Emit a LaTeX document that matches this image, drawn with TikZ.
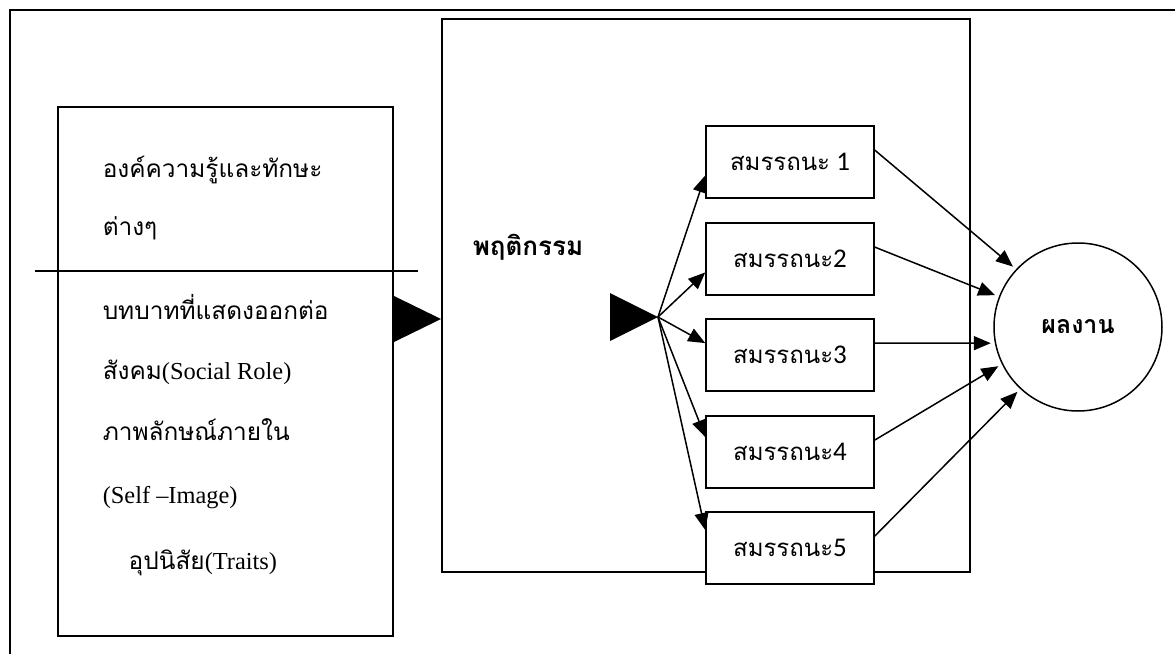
\documentclass[tikz,border=0pt]{standalone}
\usepackage{fontspec}
\usepackage{tikz}
\usetikzlibrary{arrows.meta}
\setmainfont{Liberation Serif}
\newfontfamily\thaifont[Script=Thai]{Loma}
\newfontfamily\numfont{Carlito}

\begin{document}
\begin{tikzpicture}[x=0.5pt,y=-0.5pt,line width=0.75pt,
	skillbox/.style={draw,fill=white,minimum width=84pt,minimum height=36pt,inner sep=0pt,font=\fontsize{12}{15}\selectfont},
	lefttext/.style={anchor=base west,inner sep=0pt,font=\fontsize{12.2}{15}\selectfont},
	tip/.style={-{Triangle[length=8.5pt,width=7pt]}}]
	\useasboundingbox (0,0) rectangle (1175,654);
	\draw[line width=0.85pt] (1175,10) -- (10,10) -- (10,654);
	\node[draw,minimum width=264pt,minimum height=276.5pt,inner sep=0pt] (behav) at (706,295.5) {};
	\node[draw,minimum width=167.5pt,minimum height=264.5pt,inner sep=0pt] (traits) at (225.5,371.5) {};
	\draw (35,271) -- (418,271);
	\node[lefttext] (k1) at (102,177) {\thaifont องค์ความรู้และทักษะ};
	\node[lefttext] (k2) at (102,235) {\thaifont ต่างๆ};
	\node[lefttext] (r1) at (102,319) {\thaifont บทบาทที่แสดงออกต่อ};
	\node[lefttext] (r2) at (102,379) {{\thaifont สังคม}(Social Role)};
	\node[lefttext] (i1) at (102,440) {\thaifont ภาพลักษณ์ภายใน};
	\node[lefttext] (i2) at (102,503) {(Self –Image)};
	\node[lefttext] (t1) at (128,569) {{\thaifont อุปนิสัย}(Traits)};
	\node[lefttext,font=\thaifont\bfseries\fontsize{13}{15}\selectfont] (bh) at (472,255) {พฤติกรรม};
	\coordinate (in) at (441,319);
	\coordinate (fan) at (658,317);
	\fill (in) -- (394,296) -- (394,342) -- cycle;
	\fill (fan) -- (610,293) -- (610,341) -- cycle;
	\node[skillbox] (s1) at (790,162) {{\thaifont สมรรถนะ}{\numfont\fontsize{13.5}{15}\selectfont\ 1}};
	\node[skillbox] (s2) at (790,259) {{\thaifont สมรรถนะ}{\numfont\fontsize{13.5}{15}\selectfont 2}};
	\node[skillbox] (s3) at (790,355) {{\thaifont สมรรถนะ}{\numfont\fontsize{13.5}{15}\selectfont 3}};
	\node[skillbox] (s4) at (790,452) {{\thaifont สมรรถนะ}{\numfont\fontsize{13.5}{15}\selectfont 4}};
	\node[skillbox] (s5) at (790,548) {{\thaifont สมรรถนะ}{\numfont\fontsize{13.5}{15}\selectfont 5}};
	\node[draw,circle,minimum size=84pt,inner sep=0pt,font=\thaifont\bfseries\fontsize{12.5}{15}\selectfont] (res) at (1078,327) {ผลงาน};
	\foreach \i/\a in {1/189,2/189,3/172,4/170,5/168}
		\draw[tip] (fan) -- (s\i.\a);
	\foreach \i/\a in {1/137,2/159,3/191,4/206,5/227}
		\draw[tip,shorten >=2pt] (s\i.8) -- (res.\a);
\end{tikzpicture}
\end{document}
